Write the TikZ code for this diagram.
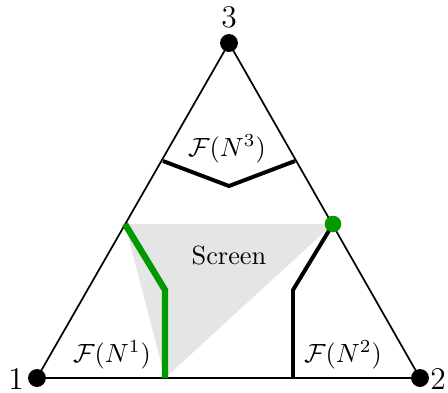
\documentclass[tikz,border=0pt]{standalone}
\usepackage{amsmath}
\definecolor{mygreen}{RGB}{0,153,0}
\begin{document}
\begin{tikzpicture}[x=0.38pt,y=-0.38pt,
  side/.style={line width=0.65pt},
  frontier/.style={line width=1.5pt,line join=miter},
  greenline/.style={line width=2.4pt,mygreen,line join=miter},
  vdot/.style={circle,fill=black,inner sep=0pt,minimum size=6.8pt},
  gdot/.style={circle,fill=mygreen,inner sep=0pt,minimum size=6.3pt},
  lab/.style={inner sep=0pt}]
\useasboundingbox (0,0) rectangle (448,392);
% vertices
\coordinate (v1) at (37,378);
\coordinate (v2) at (420,378);
\coordinate (v3) at (229,43);
% screen
\coordinate (sa) at (125,224);
\coordinate (sb) at (333,224);
\coordinate (sc) at (165,378);
\fill[gray!20] (sa) -- (sb) -- (sc) -- cycle;
% triangle
\draw[side] (v1) -- (v2) -- (v3) -- cycle;
% frontier N3
\coordinate (t1) at (163,161);
\coordinate (t2) at (229,186);
\coordinate (t3) at (295,161);
\draw[frontier] (t1) -- (t2) -- (t3);
% frontier N2
\coordinate (r1) at (293,290);
\coordinate (r2) at (293,378);
\draw[frontier] (sb) -- (r1) -- (r2);
% green frontier N1
\coordinate (g1) at (165,290);
\draw[greenline] (sa) -- (g1) -- (sc);
% dots
\node[vdot] (d1) at (v1) {};
\node[vdot] (d2) at (v2) {};
\node[vdot] (d3) at (v3) {};
\node[gdot] (dg) at (sb) {};
% labels
\node[lab,font=\large] (l3) at (229,17) {3};
\node[lab,font=\large] (l1) at (16,379) {1};
\node[lab,font=\large] (l2) at (438,379) {2};
\node[lab] (f1) at (112,355) {$\mathcal{F}(N^1)$};
\node[lab] (f2) at (343,355) {$\mathcal{F}(N^2)$};
\node[lab] (f3) at (227,149) {$\mathcal{F}(N^3)$};
\node[lab] (scr) at (229,256) {Screen};
\end{tikzpicture}
\end{document}
